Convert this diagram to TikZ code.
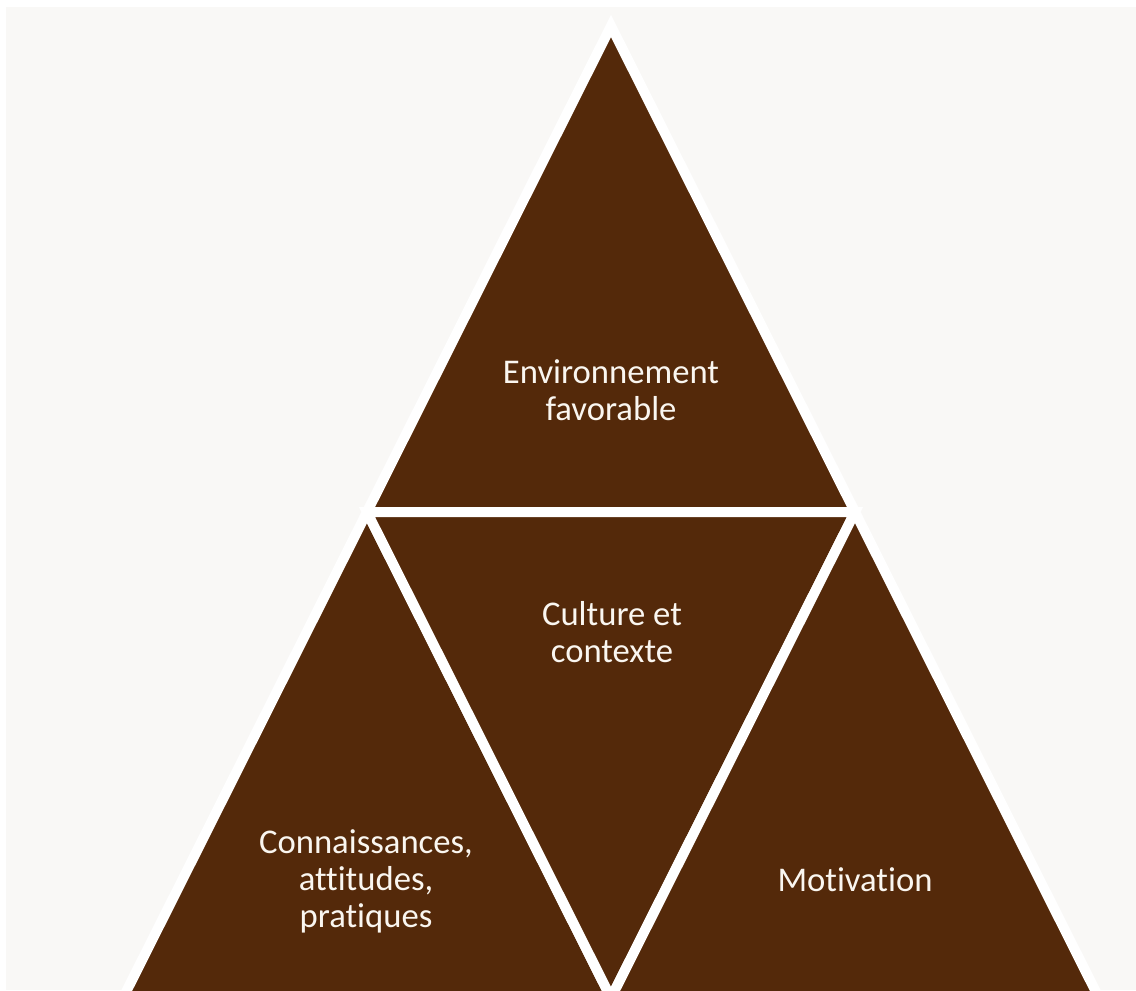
\documentclass[tikz,border=0pt]{standalone}
\usepackage{fontspec}
\setmainfont{Carlito}[Ligatures={NoCommon,NoRare}]
\definecolor{pagebg}{RGB}{249,248,246}
\definecolor{barkbrown}{RGB}{84,41,10}
\definecolor{labelcream}{RGB}{250,246,240}
\usetikzlibrary{calc}

\begin{document}
\begin{tikzpicture}[x=0.75pt,y=-0.75pt,
    piece/.style={fill=barkbrown, draw=white, line width=7.5pt, line join=miter},
    lbl/.style={text=labelcream, align=center, inner sep=0pt,
                font=\fontsize{26}{27.75}\selectfont}]
    \useasboundingbox (0,0) rectangle (1136,990);
    % Background
    \fill[pagebg] (6,7) rectangle (1136,990);

    % Corners of the pyramid
    \coordinate (apex) at (611,26);
    \coordinate (midL) at (367,512);
    \coordinate (midR) at (855,512);
    \coordinate (botL) at (123,998);
    \coordinate (botM) at (611,998);
    \coordinate (botR) at (1099,998);

    % Four triangles, cut at the lower edge
    \begin{scope}
        \clip (6,7) rectangle (1136,990);
        \draw[piece] (apex) -- (midL) -- (midR) -- cycle;
        \draw[piece] (midL) -- (botL) -- (botM) -- cycle;
        \draw[piece] (midL) -- (midR) -- (botM) -- cycle;
        \draw[piece] (midR) -- (botM) -- (botR) -- cycle;
    \end{scope}

    % Labels
    \node[lbl] (env) at (611,390) {Environnement\\favorable};
    \node[lbl] (cult) at (612,632) {Culture et\\contexte};
    \node[lbl] (cap) at (366,881) {Connaissances,\\attitudes,\\pratiques};
    \node[lbl] (motiv) at (855,880) {Motivation};
\end{tikzpicture}
\end{document}
